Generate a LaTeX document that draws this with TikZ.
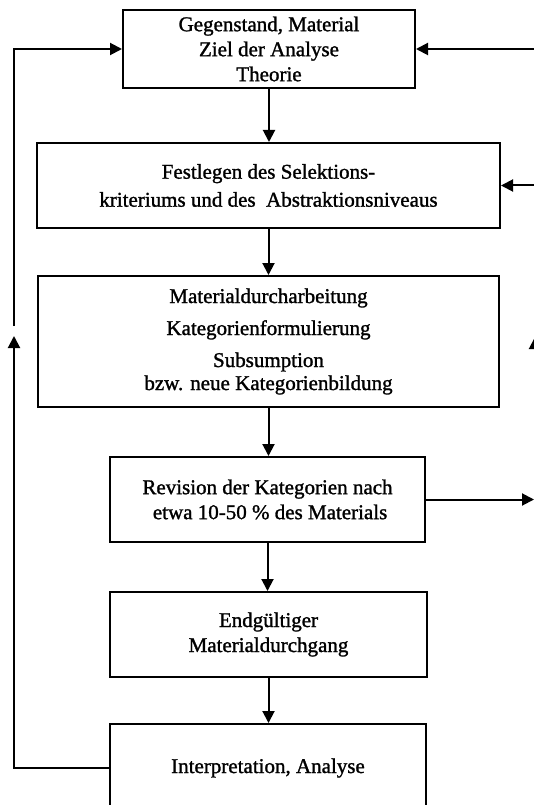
\documentclass[tikz,border=0pt]{standalone}
\usepackage{fontspec}
\setmainfont{Liberation Serif}[RawFeature={embolden=1.3}]
\usetikzlibrary{arrows.meta}
\begin{document}
\begin{tikzpicture}[x=1pt,y=-1pt,
  box/.style={draw, line width=2pt, align=center, inner sep=0pt,
    font=\fontsize{21}{25}\selectfont},
  arr/.style={-{Triangle[length=12pt,width=12pt]}, line width=2pt}]
\useasboundingbox (0,0) rectangle (534,805);
\clip (0,0) rectangle (534,805);

% process steps
\node[box, minimum width=292pt, minimum height=78pt] (b1) at (269,49)
  {Gegenstand, Material\\Ziel der Analyse\\Theorie};
\node[box, minimum width=463pt, minimum height=85pt] (b2) at (268.5,185.5)
  {Festlegen des Selektions-\\[3pt]kriteriums und des\ \ Abstraktionsniveaus};
\node[box, minimum width=461pt, minimum height=131pt, font=\fontsize{21}{23}\selectfont] (b3) at (268.5,341.5)
  {Materialdurcharbeitung\\[9pt]Kategorienformulierung\\[9pt]Subsumption\\bzw. neue Kategorienbildung};
\node[box, minimum width=315pt, minimum height=85pt] (b4) at (267.5,499.5)
  {Revision der Kategorien nach\\\ etwa 10-50 \% des Materials};
\node[box, minimum width=317pt, minimum height=85pt] (b5) at (268.5,634.5)
  {Endgültiger\\Materialdurchgang};
\node[box, minimum width=316pt, minimum height=88pt] (b6) at (268,768)
  {Interpretation, Analyse};

% main sequence
\draw[arr] (b1.south) -- (b1.south |- b2.north);
\draw[arr] (b2.south) -- (b2.south |- b3.north);
\draw[arr] (b3.south) -- (b3.south |- b4.north);
\draw[arr] (b4.south) -- (b4.south |- b5.north);
\draw[arr] (b5.south) -- (b5.south |- b6.north);

% feedback on the right
\coordinate (r1) at (540,49);
\coordinate (r2) at (540,185.5);
\coordinate (r4) at (534,499.5);
\coordinate (rupFrom) at (535,420);
\coordinate (rupTo) at (535,337);
\draw[arr] (r1) -- (b1.east);
\draw[arr] (r2) -- (b2.east);
\draw[arr] (b4.east) -- (r4);
\draw[arr] (rupFrom) -- (rupTo);

% feedback on the left
\coordinate (l1) at (14,768);
\coordinate (l2) at (14,336);
\coordinate (l3) at (14,326);
\coordinate (l4) at (14,49);
\draw[arr] (b6.west) -- (l1) -- (l2);
\draw[arr] (l3) -- (l4) -- (b1.west);
\end{tikzpicture}
\end{document}
